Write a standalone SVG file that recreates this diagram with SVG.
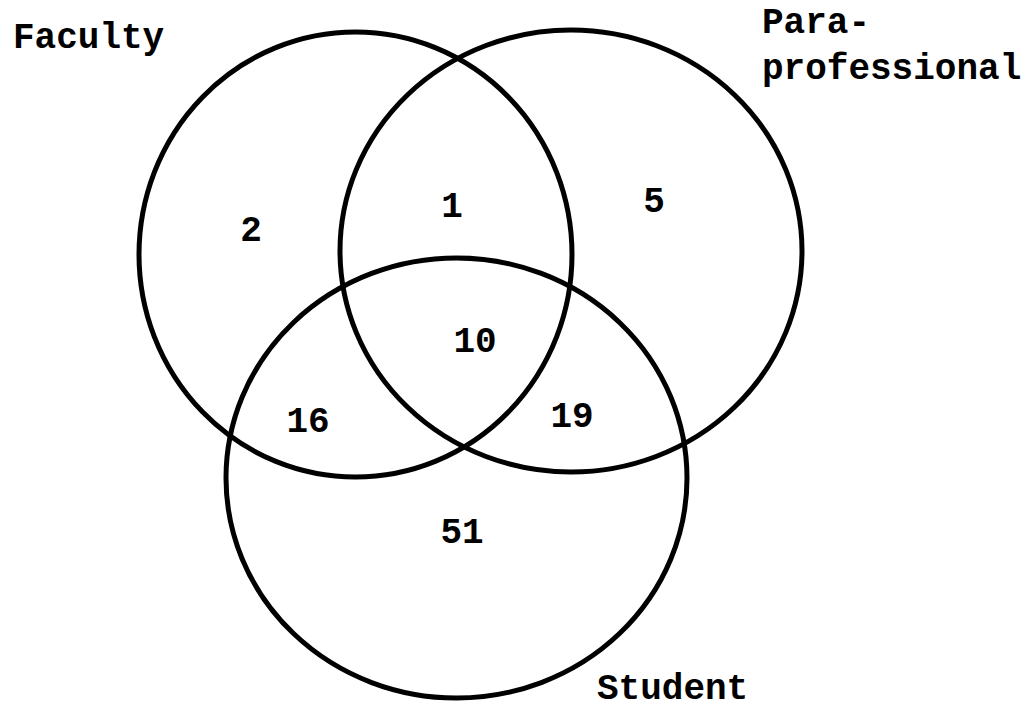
<svg xmlns="http://www.w3.org/2000/svg" width="1032" height="711" viewBox="0 0 1032 711">
<style>
.c{fill:none;stroke:#000;stroke-width:5}
.t{font-family:"Liberation Mono","Courier New",monospace;font-size:36px;font-weight:bold;fill:#000}
.n{text-anchor:middle}
</style>
<rect width="1032" height="711" fill="#fff"/>
<g id="faculty"><ellipse class="c" cx="355.5" cy="254.5" rx="216.5" ry="222.5"/><text class="t" x="13" y="48">Faculty</text></g>
<g id="paraprofessional"><ellipse class="c" cx="571" cy="251" rx="231" ry="221"/><text class="t" x="762" y="33">Para-</text><text class="t" x="762" y="79">professional</text></g>
<g id="student"><ellipse class="c" cx="456.5" cy="478" rx="230.5" ry="220"/><text class="t" x="597" y="699">Student</text></g>
<g id="counts">
<text class="t n" x="251" y="241">2</text>
<text class="t n" x="452" y="217">1</text>
<text class="t n" x="654" y="212">5</text>
<text class="t n" x="475" y="352">10</text>
<text class="t n" x="308" y="432">16</text>
<text class="t n" x="572" y="427">19</text>
<text class="t n" x="462" y="543">51</text>
</g>
</svg>
